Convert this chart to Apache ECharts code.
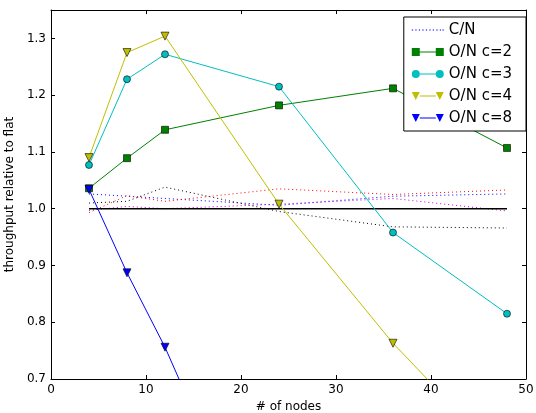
<!DOCTYPE html>
<html>
<head>
<meta charset="utf-8">
<script src="https://cdn.jsdelivr.net/npm/echarts@6/dist/echarts.min.js"></script>
<style>
  html, body { margin: 0; padding: 0; background: #fff; }
  #chart { width: 536px; height: 413px; }
</style>
</head>
<body>
<div id="chart"></div>
<script>
// x positions (# of nodes)
const nodes = [4, 8, 12, 24, 36, 48];

// C/N runs (dotted lines), only the first one goes into the legend
const cnBlue = [1.026, 1.022, 1.018, 1.006, 1.022, 1.026];
const cnRed = [0.993, 1.023, 1.013, 1.035, 1.025, 1.033];
const cnMagenta = [0.997, 1.004, 1.000, 1.008, 1.018, 0.996];
const cnBlack = [1.010, 1.013, 1.038, 0.995, 0.968, 0.966];
const flat = [1, 1, 1, 1, 1, 1];

// O/N runs
const onC2 = [1.036, 1.089, 1.139, 1.182, 1.212, 1.107];
const onC3 = [1.077, 1.228, 1.272, 1.215, 0.958, 0.815];
const onC4 = [1.090, 1.275, 1.304, 1.008, 0.763, 0.553];
const onC8 = [1.034, 0.887, 0.756, 0.300];

const xTicks = [0, 10, 20, 30, 40, 50];
const yTicks = [0.7, 0.8, 0.9, 1.0, 1.1, 1.2, 1.3];

const legendNames = ['C/N', 'O/N c=2', 'O/N c=3', 'O/N c=4', 'O/N c=8'];

function pairs(ys) {
  return ys.map(function (y, i) { return [nodes[i], y]; });
}

var font = 'DejaVu Sans';

// legend icons: line with a marker on each end
var lineBit = ' M8,3.5h16v1h-16z';
var icons = {
  'C/N': 'path://M0,0h1.3v1h-1.3z M3.5,0h1.3v1h-1.3z M7,0h1.3v1h-1.3z M10.5,0h1.3v1h-1.3z M14,0h1.3v1h-1.3z M17.5,0h1.3v1h-1.3z M21,0h1.3v1h-1.3z M24.5,0h1.3v1h-1.3z M28,0h1.3v1h-1.3z M30.7,0h1.3v1h-1.3z',
  'O/N c=2': 'path://M0,0h8v8h-8z' + lineBit + ' M24,0h8v8h-8z',
  'O/N c=3': 'path://M0,4a4,4 0 1,0 8,0a4,4 0 1,0 -8,0z' + lineBit + ' M24,4a4,4 0 1,0 8,0a4,4 0 1,0 -8,0z',
  'O/N c=4': 'path://M0,0h8l-4,8z' + lineBit + ' M24,0h8l-4,8z',
  'O/N c=8': 'path://M0,0h8l-4,8z' + lineBit + ' M24,0h8l-4,8z'
};

function dotted(name, color, ys) {
  return {
    name: name,
    type: 'line',
    data: pairs(ys),
    symbol: 'none',
    silent: true,
    lineStyle: { color: color, width: 1, type: [1, 3] },
    itemStyle: { color: color }
  };
}

function marked(name, color, ys, symbol, size, rotate) {
  return {
    name: name,
    type: 'line',
    data: pairs(ys),
    symbol: symbol,
    symbolSize: size,
    symbolRotate: rotate || 0,
    showAllSymbol: true,
    clip: true,
    lineStyle: { color: color, width: 1 },
    itemStyle: { color: color, borderColor: '#000', borderWidth: 0.6 }
  };
}

var chart = echarts.init(document.getElementById('chart'));

var axisBase = {
  axisLine: { show: true, onZero: false, lineStyle: { color: '#000', width: 1 } },
  axisTick: { show: true, inside: true, length: 4, lineStyle: { color: '#000' } },
  splitLine: { show: false }
};

var option = {
  animation: false,
  backgroundColor: '#fff',
  grid: { left: 51, right: 10, top: 10, bottom: 34, containLabel: false, outerBoundsMode: 'none' },
  xAxis: [
    Object.assign({}, axisBase, {
      type: 'value', min: 0, max: 50, interval: 10, position: 'bottom',
      name: '# of nodes', nameLocation: 'middle', nameGap: 17,
      nameTextStyle: { fontFamily: font, fontSize: 12, color: '#000' },
      axisLabel: { fontFamily: font, fontSize: 12, color: '#000', margin: 5,
        formatter: function (v) { return xTicks.indexOf(v) >= 0 ? String(v) : ''; } }
    }),
    Object.assign({}, axisBase, {
      type: 'value', min: 0, max: 50, interval: 10, position: 'top',
      axisLabel: { show: false }
    })
  ],
  yAxis: [
    Object.assign({}, axisBase, {
      type: 'value', min: 0.7, max: 1.35, interval: 0.1, position: 'left',
      name: 'throughput relative to flat', nameLocation: 'middle', nameGap: 32,
      nameTextStyle: { fontFamily: font, fontSize: 12, color: '#000' },
      axisLabel: { fontFamily: font, fontSize: 12, color: '#000', margin: 5,
        showMaxLabel: false,
        formatter: function (v) {
          var t = Math.round(v * 10) / 10;
          return yTicks.indexOf(t) >= 0 && Math.abs(v - t) < 1e-6 ? t.toFixed(1) : '';
        } }
    }),
    Object.assign({}, axisBase, {
      type: 'value', min: 0.7, max: 1.35, interval: 0.1, position: 'right',
      axisLabel: { show: false }
    })
  ],
  legend: {
    data: legendNames.map(function (n) { return { name: n, icon: icons[n] }; }),
    orient: 'vertical',
    right: 10,
    top: 17,
    padding: [5, 14, 5, 8],
    itemWidth: 32,
    itemHeight: 8,
    itemGap: 6,
    itemTextGap: 13,
    symbolKeepAspect: true,
    backgroundColor: '#fff',
    borderColor: '#000',
    borderWidth: 1,
    borderRadius: 0,
    selectedMode: false,
    itemStyle: { borderWidth: 0 },
    textStyle: { fontFamily: font, fontSize: 15, color: '#000', lineHeight: 16 }
  },
  series: [
    dotted('C/N', '#0000ff', cnBlue),
    dotted('C/N red', '#ff0000', cnRed),
    dotted('C/N magenta', '#bf00bf', cnMagenta),
    dotted('C/N black', '#000000', cnBlack),
    {
      name: 'flat', type: 'line', data: pairs(flat), symbol: 'none', silent: true,
      lineStyle: { color: '#000', width: 1.5 }
    },
    marked('O/N c=2', '#008000', onC2, 'rect', 7),
    marked('O/N c=3', '#00bfbf', onC3, 'circle', 7),
    marked('O/N c=4', '#bfbf00', onC4, 'triangle', 8, 180),
    marked('O/N c=8', '#0000ff', onC8, 'triangle', 8, 180)
  ]
};

option && chart.setOption(option);
</script>
</body>
</html>
